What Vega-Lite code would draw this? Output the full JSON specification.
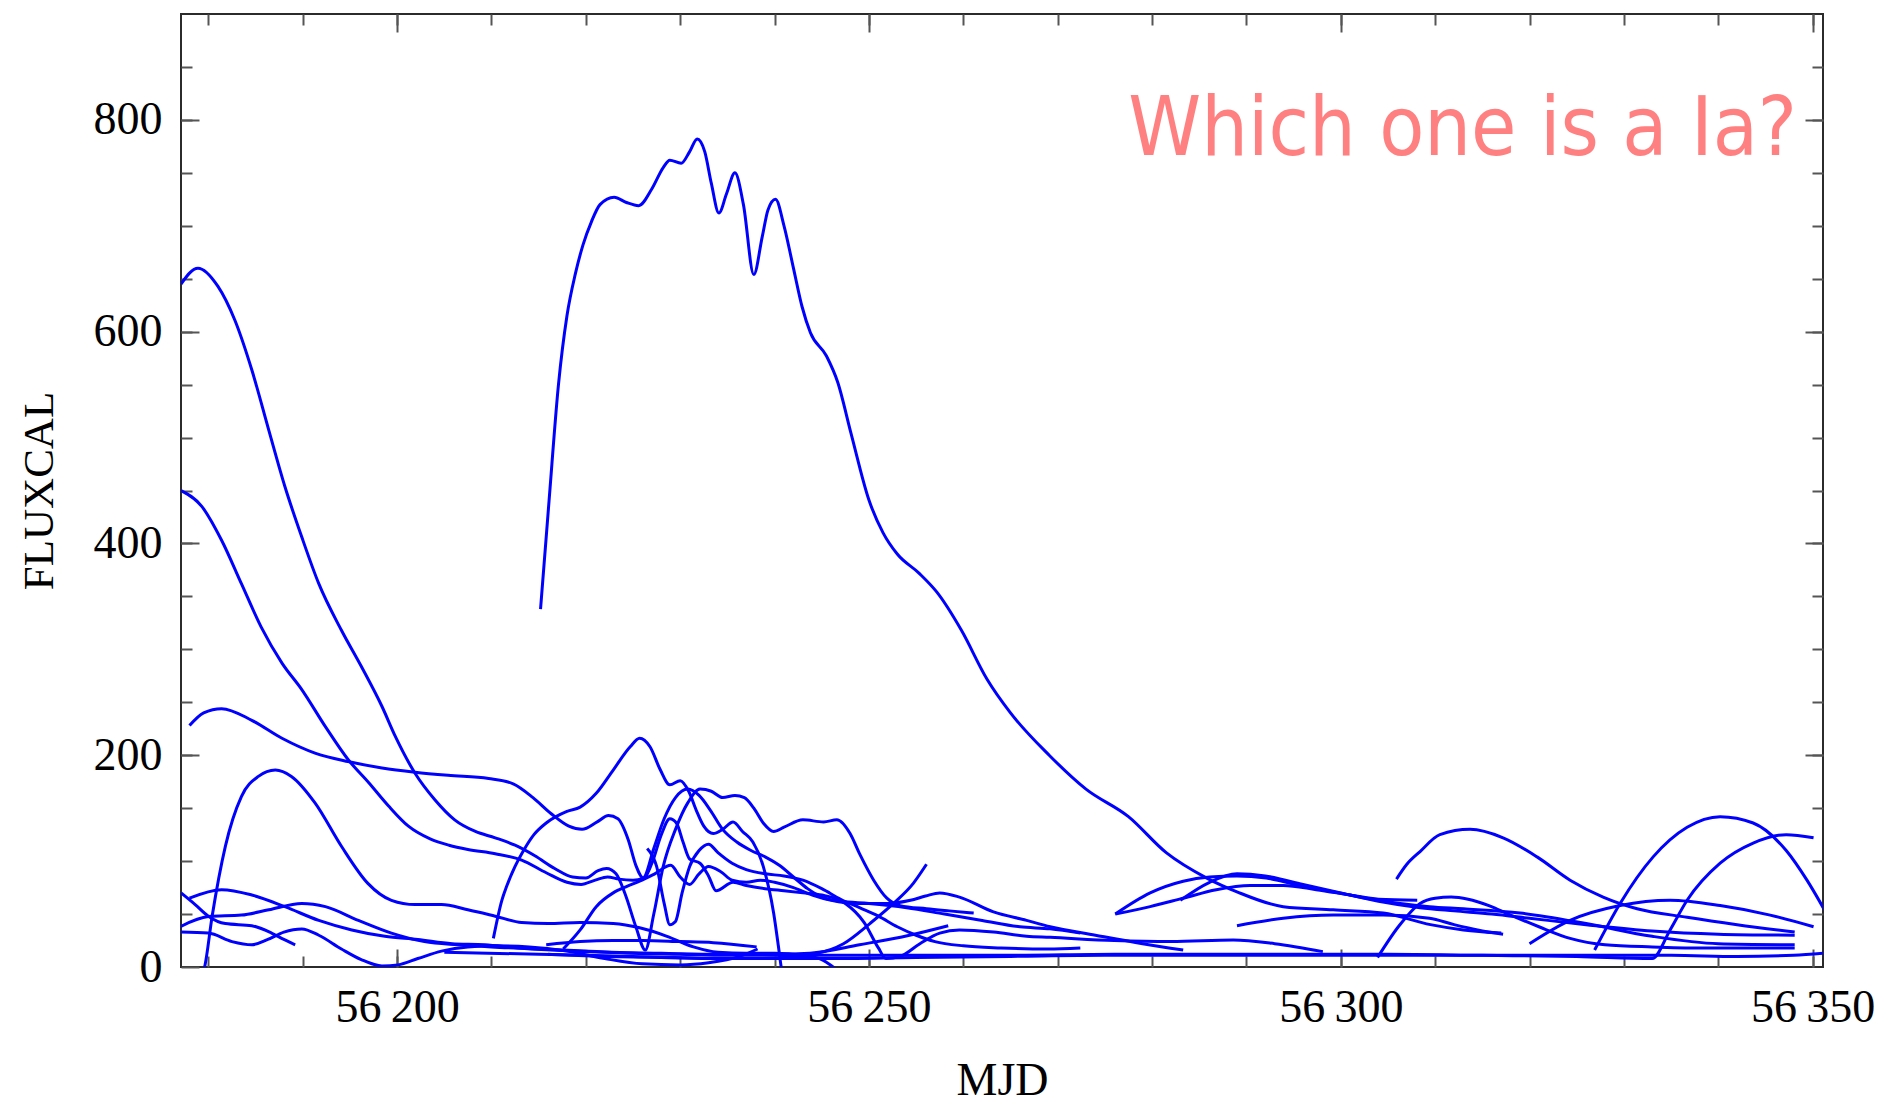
{
  "$schema": "https://vega.github.io/schema/vega-lite/v6.json",
  "width": 1642,
  "height": 953,
  "autosize": {"type": "none"},
  "padding": {"left": 181, "top": 14, "right": 56, "bottom": 137},
  "background": "white",
  "title": {"text": "Which one is a Ia?", "anchor": "end", "frame": "group", "orient": "top", "align": "right", "baseline": "alphabetic", "offset": 0, "dx": -26, "dy": 224, "font": "DejaVu Sans Condensed, DejaVu Sans", "fontSize": 82, "fontWeight": "normal", "color": "#ff8080"},
  "config": {
    "view": {"stroke": "#2b2b2b", "strokeWidth": 2},
    "axis": {"domain": false, "grid": false, "tickColor": "#555555", "tickWidth": 2, "labelFont": "Liberation Serif", "labelFontSize": 46, "labelColor": "#000000", "titleFont": "Liberation Serif", "titleFontSize": 46, "titleFontWeight": "normal", "titleColor": "#000000"}
  },
  "datasets": {
    "curves": [
      {"c":"c01","x":56215.2,"y":338},{"c":"c01","x":56216.1,"y":440},{"c":"c01","x":56217.1,"y":550},{"c":"c01","x":56218,"y":615},{"c":"c01","x":56218.9,"y":655},{"c":"c01","x":56219.7,"y":682},{"c":"c01","x":56220.6,"y":704},{"c":"c01","x":56221.5,"y":720},{"c":"c01","x":56223,"y":727},{"c":"c01","x":56224.3,"y":722},{"c":"c01","x":56225.6,"y":719},{"c":"c01","x":56227,"y":735},{"c":"c01","x":56228.2,"y":755},{"c":"c01","x":56228.9,"y":762},{"c":"c01","x":56230.1,"y":759},{"c":"c01","x":56231,"y":770},{"c":"c01","x":56231.8,"y":782},{"c":"c01","x":56232.6,"y":770},{"c":"c01","x":56233.3,"y":740},{"c":"c01","x":56234.1,"y":712},{"c":"c01","x":56234.9,"y":730},{"c":"c01","x":56235.8,"y":750},{"c":"c01","x":56236.7,"y":720},{"c":"c01","x":56237.8,"y":654},{"c":"c01","x":56238.7,"y":690},{"c":"c01","x":56239.3,"y":715},{"c":"c01","x":56240.1,"y":725},{"c":"c01","x":56241,"y":700},{"c":"c01","x":56242,"y":660},{"c":"c01","x":56242.9,"y":624},{"c":"c01","x":56243.8,"y":599},{"c":"c01","x":56245.5,"y":577},{"c":"c01","x":56246.7,"y":552},{"c":"c01","x":56248.1,"y":504},{"c":"c01","x":56250,"y":441},{"c":"c01","x":56251.5,"y":410},{"c":"c01","x":56253,"y":390},{"c":"c01","x":56255.3,"y":372},{"c":"c01","x":56257.2,"y":354},{"c":"c01","x":56259.8,"y":318},{"c":"c01","x":56262.5,"y":272},{"c":"c01","x":56265,"y":240},{"c":"c01","x":56269.1,"y":200},{"c":"c01","x":56273,"y":168},{"c":"c01","x":56277.5,"y":142},{"c":"c01","x":56281.5,"y":108},{"c":"c01","x":56285.8,"y":84},{"c":"c01","x":56289,"y":71},{"c":"c01","x":56293.9,"y":57},{"c":"c01","x":56299.2,"y":54},{"c":"c01","x":56304.5,"y":51},{"c":"c01","x":56309.5,"y":40},{"c":"c01","x":56313,"y":35},{"c":"c01","x":56317,"y":32},

      {"c":"c02","x":56177.1,"y":645},{"c":"c02","x":56178.9,"y":660},{"c":"c02","x":56181,"y":643},{"c":"c02","x":56182.8,"y":611},{"c":"c02","x":56184.6,"y":564},{"c":"c02","x":56186.4,"y":507},{"c":"c02","x":56188.1,"y":454},{"c":"c02","x":56189.9,"y":406},{"c":"c02","x":56191.7,"y":362},{"c":"c02","x":56194.1,"y":318},{"c":"c02","x":56196.2,"y":284},{"c":"c02","x":56198.4,"y":246},{"c":"c02","x":56199.8,"y":218},{"c":"c02","x":56201.9,"y":183},{"c":"c02","x":56204,"y":158},{"c":"c02","x":56206.1,"y":139},{"c":"c02","x":56208.3,"y":128},{"c":"c02","x":56210.4,"y":122},{"c":"c02","x":56212.5,"y":115},{"c":"c02","x":56214.6,"y":105},{"c":"c02","x":56216.7,"y":93},{"c":"c02","x":56218.6,"y":85},{"c":"c02","x":56220,"y":84},{"c":"c02","x":56221.3,"y":91},{"c":"c02","x":56222.2,"y":93},{"c":"c02","x":56223.2,"y":88},{"c":"c02","x":56224.2,"y":68},{"c":"c02","x":56225.3,"y":38},{"c":"c02","x":56226.3,"y":16},{"c":"c02","x":56227.2,"y":50},{"c":"c02","x":56228.2,"y":95},{"c":"c02","x":56229.5,"y":130},{"c":"c02","x":56230.8,"y":155},{"c":"c02","x":56232.1,"y":168},{"c":"c02","x":56233.3,"y":166},{"c":"c02","x":56234.5,"y":160},{"c":"c02","x":56235.8,"y":162},{"c":"c02","x":56236.8,"y":160},{"c":"c02","x":56237.8,"y":150},{"c":"c02","x":56238.8,"y":136},{"c":"c02","x":56239.9,"y":128},{"c":"c02","x":56241,"y":132},{"c":"c02","x":56243,"y":139},{"c":"c02","x":56245.2,"y":137},{"c":"c02","x":56246.6,"y":139},{"c":"c02","x":56248,"y":126},{"c":"c02","x":56249,"y":107},{"c":"c02","x":56250.5,"y":82},{"c":"c02","x":56251.9,"y":65},{"c":"c02","x":56253.3,"y":58},{"c":"c02","x":56256.1,"y":55},{"c":"c02","x":56258.5,"y":53},{"c":"c02","x":56261.1,"y":51},

      {"c":"c03","x":56177.1,"y":450},{"c":"c03","x":56179.3,"y":435},{"c":"c03","x":56181.4,"y":403},{"c":"c03","x":56183.5,"y":362},{"c":"c03","x":56185.6,"y":321},{"c":"c03","x":56187.8,"y":287},{"c":"c03","x":56189.9,"y":262},{"c":"c03","x":56192.4,"y":227},{"c":"c03","x":56194.8,"y":196},{"c":"c03","x":56197,"y":174},{"c":"c03","x":56199.1,"y":152},{"c":"c03","x":56201.2,"y":133},{"c":"c03","x":56203.5,"y":121},{"c":"c03","x":56205.5,"y":115},{"c":"c03","x":56207.5,"y":111},{"c":"c03","x":56210.4,"y":107},{"c":"c03","x":56213.2,"y":101},{"c":"c03","x":56215.8,"y":89},{"c":"c03","x":56218,"y":80},{"c":"c03","x":56219.5,"y":78},{"c":"c03","x":56221,"y":82},{"c":"c03","x":56222.3,"y":85},{"c":"c03","x":56223.5,"y":83},{"c":"c03","x":56225,"y":82},{"c":"c03","x":56226.1,"y":84},{"c":"c03","x":56227.2,"y":112},{"c":"c03","x":56228.3,"y":140},{"c":"c03","x":56229.5,"y":160},{"c":"c03","x":56230.8,"y":168},{"c":"c03","x":56232,"y":162},{"c":"c03","x":56233.2,"y":148},{"c":"c03","x":56234.5,"y":130},{"c":"c03","x":56236,"y":118},{"c":"c03","x":56237.5,"y":110},{"c":"c03","x":56239,"y":104},{"c":"c03","x":56240.5,"y":96},{"c":"c03","x":56242,"y":85},{"c":"c03","x":56243.5,"y":74},{"c":"c03","x":56245,"y":66},{"c":"c03","x":56247,"y":62},{"c":"c03","x":56250,"y":60},{"c":"c03","x":56254,"y":56},{"c":"c03","x":56258,"y":50},{"c":"c03","x":56262,"y":44},{"c":"c03","x":56266,"y":38},{"c":"c03","x":56269.2,"y":36},{"c":"c03","x":56272.4,"y":32},

      {"c":"c04","x":56178,"y":228},{"c":"c04","x":56179.5,"y":240},{"c":"c04","x":56181.4,"y":244},{"c":"c04","x":56184.6,"y":233},{"c":"c04","x":56187.8,"y":216},{"c":"c04","x":56191.3,"y":202},{"c":"c04","x":56194.8,"y":194},{"c":"c04","x":56198.4,"y":188},{"c":"c04","x":56201.9,"y":184},{"c":"c04","x":56205.4,"y":181},{"c":"c04","x":56209.7,"y":178},{"c":"c04","x":56212.3,"y":173},{"c":"c04","x":56214.4,"y":160},{"c":"c04","x":56216.3,"y":145},{"c":"c04","x":56218.2,"y":133},{"c":"c04","x":56219.6,"y":130},{"c":"c04","x":56221.2,"y":137},{"c":"c04","x":56222.4,"y":143},{"c":"c04","x":56223.4,"y":140},{"c":"c04","x":56224.5,"y":120},{"c":"c04","x":56225.3,"y":96},{"c":"c04","x":56226.1,"y":84},{"c":"c04","x":56227,"y":98},{"c":"c04","x":56228,"y":125},{"c":"c04","x":56228.9,"y":140},{"c":"c04","x":56229.6,"y":136},{"c":"c04","x":56230.3,"y":118},{"c":"c04","x":56231,"y":102},{"c":"c04","x":56232.1,"y":98},{"c":"c04","x":56233,"y":86},{"c":"c04","x":56233.8,"y":72},{"c":"c04","x":56235.6,"y":80},{"c":"c04","x":56237,"y":77},{"c":"c04","x":56239,"y":74},{"c":"c04","x":56241,"y":72},{"c":"c04","x":56243,"y":70},{"c":"c04","x":56245,"y":68},{"c":"c04","x":56247.5,"y":60},{"c":"c04","x":56249.5,"y":42},{"c":"c04","x":56251,"y":18},{"c":"c04","x":56251.8,"y":8},{"c":"c04","x":56253.3,"y":10},{"c":"c04","x":56255.4,"y":22},{"c":"c04","x":56257.5,"y":32},{"c":"c04","x":56259.6,"y":35},{"c":"c04","x":56263.2,"y":33},{"c":"c04","x":56266.7,"y":29},{"c":"c04","x":56269.2,"y":28},{"c":"c04","x":56276,"y":25},{"c":"c04","x":56282,"y":24},{"c":"c04","x":56288.6,"y":25.5},{"c":"c04","x":56293,"y":22},{"c":"c04","x":56298.1,"y":14.5},

      {"c":"c05","x":56210.2,"y":27},{"c":"c05","x":56211.1,"y":63},{"c":"c05","x":56211.6,"y":76},{"c":"c05","x":56212.5,"y":95},{"c":"c05","x":56213.4,"y":110},{"c":"c05","x":56214.5,"y":125},{"c":"c05","x":56215.8,"y":136},{"c":"c05","x":56218,"y":147},{"c":"c05","x":56219.4,"y":151},{"c":"c05","x":56221.1,"y":164},{"c":"c05","x":56222.9,"y":186},{"c":"c05","x":56224.7,"y":208},{"c":"c05","x":56225.7,"y":216},{"c":"c05","x":56226.8,"y":208},{"c":"c05","x":56227.9,"y":186},{"c":"c05","x":56228.9,"y":172},{"c":"c05","x":56230,"y":176},{"c":"c05","x":56230.9,"y":166},{"c":"c05","x":56231.7,"y":148},{"c":"c05","x":56232.5,"y":133},{"c":"c05","x":56233.5,"y":126},{"c":"c05","x":56234.5,"y":130},{"c":"c05","x":56235.6,"y":137},{"c":"c05","x":56236.6,"y":128},{"c":"c05","x":56237.7,"y":118},{"c":"c05","x":56238.8,"y":95},{"c":"c05","x":56239.9,"y":51},{"c":"c05","x":56240.4,"y":20},{"c":"c05","x":56240.7,"y":0},{"c":"c05","x":56240.9,"y":-10},

      {"c":"c06","x":56179.3,"y":-8},{"c":"c06","x":56179.6,"y":0},{"c":"c06","x":56180.4,"y":48},{"c":"c06","x":56181.8,"y":114},{"c":"c06","x":56183.5,"y":161},{"c":"c06","x":56185.3,"y":180},{"c":"c06","x":56187.1,"y":186},{"c":"c06","x":56188.8,"y":180},{"c":"c06","x":56191.3,"y":155},{"c":"c06","x":56194.1,"y":114},{"c":"c06","x":56196.9,"y":79},{"c":"c06","x":56199.4,"y":63},{"c":"c06","x":56201.9,"y":59},{"c":"c06","x":56204.7,"y":59},{"c":"c06","x":56207.5,"y":54},{"c":"c06","x":56210.4,"y":48},{"c":"c06","x":56213.2,"y":42},{"c":"c06","x":56216,"y":41},{"c":"c06","x":56219.4,"y":42},{"c":"c06","x":56222.9,"y":41},{"c":"c06","x":56225.7,"y":37},{"c":"c06","x":56228.6,"y":29},{"c":"c06","x":56231.4,"y":19},{"c":"c06","x":56234,"y":14},{"c":"c06","x":56237,"y":13},{"c":"c06","x":56240,"y":13},{"c":"c06","x":56243,"y":11},{"c":"c06","x":56245,"y":7},{"c":"c06","x":56246.5,"y":-2},

      {"c":"c07","x":56177.1,"y":70},{"c":"c07","x":56178.6,"y":59},{"c":"c07","x":56180,"y":48},{"c":"c07","x":56181.8,"y":41},{"c":"c07","x":56184.6,"y":39},{"c":"c07","x":56186.7,"y":32},{"c":"c07","x":56188,"y":26},{"c":"c07","x":56189.2,"y":21},

      {"c":"c08","x":56178,"y":65},{"c":"c08","x":56181.4,"y":73},{"c":"c08","x":56184.6,"y":68},{"c":"c08","x":56188.1,"y":57},{"c":"c08","x":56191.7,"y":44},{"c":"c08","x":56195.2,"y":35},{"c":"c08","x":56198.7,"y":29},{"c":"c08","x":56202.2,"y":26},{"c":"c08","x":56205.8,"y":22},{"c":"c08","x":56209.3,"y":21},{"c":"c08","x":56212.8,"y":18},{"c":"c08","x":56216.4,"y":16},{"c":"c08","x":56222,"y":14},{"c":"c08","x":56228,"y":13},{"c":"c08","x":56234,"y":12},{"c":"c08","x":56240,"y":12},{"c":"c08","x":56243.75,"y":13},{"c":"c08","x":56249,"y":21},{"c":"c08","x":56254.3,"y":30},{"c":"c08","x":56258.4,"y":39},

      {"c":"c09","x":56177,"y":38},{"c":"c09","x":56180,"y":47.6},{"c":"c09","x":56183.5,"y":49},{"c":"c09","x":56186.4,"y":54},{"c":"c09","x":56189.9,"y":60},{"c":"c09","x":56192.4,"y":57},{"c":"c09","x":56195.9,"y":44},{"c":"c09","x":56199.4,"y":32},{"c":"c09","x":56202.9,"y":24},{"c":"c09","x":56206.5,"y":21},{"c":"c09","x":56210,"y":19},{"c":"c09","x":56215,"y":17},{"c":"c09","x":56220,"y":15},{"c":"c09","x":56225,"y":13},{"c":"c09","x":56230,"y":12},{"c":"c09","x":56235,"y":11},{"c":"c09","x":56245,"y":11},{"c":"c09","x":56255,"y":11},{"c":"c09","x":56265,"y":11},{"c":"c09","x":56276,"y":12},{"c":"c09","x":56290,"y":12},{"c":"c09","x":56305,"y":12},{"c":"c09","x":56315,"y":11},{"c":"c09","x":56325,"y":10},{"c":"c09","x":56333,"y":8},{"c":"c09","x":56334.9,"y":35},{"c":"c09","x":56336.7,"y":63},{"c":"c09","x":56340.2,"y":98},{"c":"c09","x":56343.7,"y":117},{"c":"c09","x":56347.2,"y":125},{"c":"c09","x":56350.1,"y":122},

      {"c":"c10","x":56177,"y":33},{"c":"c10","x":56180,"y":32},{"c":"c10","x":56182.5,"y":24},{"c":"c10","x":56184.6,"y":21},{"c":"c10","x":56186.3,"y":26},{"c":"c10","x":56188,"y":33},{"c":"c10","x":56189.9,"y":36},{"c":"c10","x":56191.7,"y":30},{"c":"c10","x":56194.1,"y":17},{"c":"c10","x":56196.2,"y":7},{"c":"c10","x":56198.4,"y":1},{"c":"c10","x":56200.1,"y":2},{"c":"c10","x":56202.2,"y":8},{"c":"c10","x":56204.7,"y":15},{"c":"c10","x":56207.5,"y":19},{"c":"c10","x":56210.4,"y":20},{"c":"c10","x":56214,"y":19},{"c":"c10","x":56218,"y":15},{"c":"c10","x":56222,"y":8},{"c":"c10","x":56226,"y":3},{"c":"c10","x":56230,"y":2},{"c":"c10","x":56233,"y":4},{"c":"c10","x":56236.3,"y":10},{"c":"c10","x":56238.2,"y":17},

      {"c":"c11","x":56215.8,"y":21},{"c":"c11","x":56219.4,"y":24},{"c":"c11","x":56222.9,"y":25},{"c":"c11","x":56226,"y":25},{"c":"c11","x":56230,"y":24},{"c":"c11","x":56233.5,"y":23},{"c":"c11","x":56238.1,"y":19},

      {"c":"c12","x":56217.6,"y":17},{"c":"c12","x":56219.4,"y":35},{"c":"c12","x":56221.1,"y":57},{"c":"c12","x":56222.9,"y":70},{"c":"c12","x":56224.3,"y":76},{"c":"c12","x":56225.7,"y":81},{"c":"c12","x":56227.3,"y":88},{"c":"c12","x":56229,"y":96},{"c":"c12","x":56230,"y":85},{"c":"c12","x":56231,"y":78},{"c":"c12","x":56232,"y":88},{"c":"c12","x":56233,"y":95},{"c":"c12","x":56234.3,"y":90},{"c":"c12","x":56235.5,"y":82},{"c":"c12","x":56237,"y":80},{"c":"c12","x":56238.5,"y":82},{"c":"c12","x":56240,"y":80},{"c":"c12","x":56242,"y":75},{"c":"c12","x":56244,"y":68},{"c":"c12","x":56246,"y":63},{"c":"c12","x":56249,"y":60},{"c":"c12","x":56252,"y":60},{"c":"c12","x":56254.4,"y":63},{"c":"c12","x":56256,"y":67},{"c":"c12","x":56257.5,"y":70},{"c":"c12","x":56259.6,"y":66},{"c":"c12","x":56263.2,"y":52},{"c":"c12","x":56266.7,"y":44},{"c":"c12","x":56269.2,"y":38},{"c":"c12","x":56274,"y":30},{"c":"c12","x":56279,"y":22},{"c":"c12","x":56283.3,"y":16},

      {"c":"c13","x":56226.5,"y":112},{"c":"c13","x":56227.5,"y":95},{"c":"c13","x":56228.3,"y":60},{"c":"c13","x":56228.9,"y":40},{"c":"c13","x":56229.5,"y":43},{"c":"c13","x":56230.2,"y":70},{"c":"c13","x":56231,"y":95},{"c":"c13","x":56232,"y":110},{"c":"c13","x":56233,"y":116},{"c":"c13","x":56234,"y":108},{"c":"c13","x":56235.5,"y":98},{"c":"c13","x":56237,"y":92},{"c":"c13","x":56239,"y":88},{"c":"c13","x":56241,"y":86},{"c":"c13","x":56243,"y":82},{"c":"c13","x":56245,"y":74},{"c":"c13","x":56247,"y":64},{"c":"c13","x":56249,"y":56},{"c":"c13","x":56251,"y":48},{"c":"c13","x":56253,"y":38},{"c":"c13","x":56255,"y":30},{"c":"c13","x":56257,"y":24},{"c":"c13","x":56260,"y":20},{"c":"c13","x":56264,"y":18},{"c":"c13","x":56269,"y":17},{"c":"c13","x":56272.4,"y":18},

      {"c":"c14","x":56216,"y":12},{"c":"c14","x":56222,"y":10},{"c":"c14","x":56228,"y":9},{"c":"c14","x":56234,"y":8},{"c":"c14","x":56238.45,"y":8},{"c":"c14","x":56244.45,"y":13},{"c":"c14","x":56247.3,"y":22},{"c":"c14","x":56250.1,"y":41},{"c":"c14","x":56252.6,"y":60},{"c":"c14","x":56254.7,"y":79},{"c":"c14","x":56256.1,"y":97},

      {"c":"c15","x":56205,"y":14},{"c":"c15","x":56215,"y":12},{"c":"c15","x":56225,"y":10},{"c":"c15","x":56235,"y":8},{"c":"c15","x":56245,"y":8},{"c":"c15","x":56255,"y":9},{"c":"c15","x":56265,"y":10},{"c":"c15","x":56275,"y":11},{"c":"c15","x":56285,"y":11},{"c":"c15","x":56295,"y":11},{"c":"c15","x":56305,"y":11},{"c":"c15","x":56315,"y":11},{"c":"c15","x":56325,"y":11},{"c":"c15","x":56335,"y":11},{"c":"c15","x":56342,"y":10},{"c":"c15","x":56348,"y":11},{"c":"c15","x":56351.2,"y":13},

      {"c":"c16","x":56276.1,"y":50},{"c":"c16","x":56279.8,"y":70},{"c":"c16","x":56283.3,"y":81},{"c":"c16","x":56286.1,"y":85},{"c":"c16","x":56289,"y":86},{"c":"c16","x":56292.1,"y":84},{"c":"c16","x":56295.7,"y":77},{"c":"c16","x":56299.2,"y":71},{"c":"c16","x":56302.7,"y":65},{"c":"c16","x":56306.3,"y":60},{"c":"c16","x":56309.4,"y":57},{"c":"c16","x":56313,"y":55},{"c":"c16","x":56319,"y":51},{"c":"c16","x":56326,"y":41},{"c":"c16","x":56333,"y":29},{"c":"c16","x":56340,"y":22},{"c":"c16","x":56348.1,"y":21},

      {"c":"c17","x":56276.1,"y":50},{"c":"c17","x":56279.8,"y":57},{"c":"c17","x":56283.3,"y":65},{"c":"c17","x":56286.8,"y":73},{"c":"c17","x":56290.4,"y":77},{"c":"c17","x":56293.9,"y":77},{"c":"c17","x":56297.4,"y":73},{"c":"c17","x":56301,"y":68},{"c":"c17","x":56304,"y":64},{"c":"c17","x":56308.1,"y":63},

      {"c":"c18","x":56283,"y":63},{"c":"c18","x":56286.1,"y":80},{"c":"c18","x":56289,"y":88},{"c":"c18","x":56292,"y":86},{"c":"c18","x":56296,"y":78},{"c":"c18","x":56300,"y":70},{"c":"c18","x":56304,"y":62},{"c":"c18","x":56308.4,"y":56},{"c":"c18","x":56312,"y":53},{"c":"c18","x":56316,"y":50},{"c":"c18","x":56320,"y":46},{"c":"c18","x":56326,"y":40},{"c":"c18","x":56333,"y":34},{"c":"c18","x":56340,"y":31},{"c":"c18","x":56348.1,"y":30},

      {"c":"c19","x":56289,"y":39},{"c":"c19","x":56293.9,"y":46},{"c":"c19","x":56299.2,"y":49},{"c":"c19","x":56304.5,"y":49},{"c":"c19","x":56309.4,"y":46},{"c":"c19","x":56312,"y":40},{"c":"c19","x":56314.5,"y":35},{"c":"c19","x":56317.2,"y":31},

      {"c":"c20","x":56303.9,"y":9},{"c":"c20","x":56306.1,"y":38},{"c":"c20","x":56308.4,"y":60},{"c":"c20","x":56310,"y":65},{"c":"c20","x":56311.7,"y":66},{"c":"c20","x":56313.5,"y":64},{"c":"c20","x":56315.7,"y":58},{"c":"c20","x":56318,"y":49},{"c":"c20","x":56321,"y":38},{"c":"c20","x":56324.3,"y":27},{"c":"c20","x":56328,"y":21},{"c":"c20","x":56333,"y":19},{"c":"c20","x":56338,"y":18},{"c":"c20","x":56343,"y":18},{"c":"c20","x":56348.1,"y":18},

      {"c":"c21","x":56305.9,"y":83},{"c":"c21","x":56307,"y":97},{"c":"c21","x":56308.4,"y":109},{"c":"c21","x":56310.5,"y":125},{"c":"c21","x":56313.7,"y":130},{"c":"c21","x":56317.2,"y":122},{"c":"c21","x":56320.8,"y":104},{"c":"c21","x":56324.3,"y":82},{"c":"c21","x":56327.8,"y":66},{"c":"c21","x":56331.4,"y":55},{"c":"c21","x":56336.7,"y":47},{"c":"c21","x":56342,"y":40},{"c":"c21","x":56348.1,"y":33},

      {"c":"c22","x":56320,"y":22},{"c":"c22","x":56324.3,"y":44},{"c":"c22","x":56329.6,"y":58},{"c":"c22","x":56334.9,"y":63},{"c":"c22","x":56340.2,"y":58},{"c":"c22","x":56345.5,"y":49},{"c":"c22","x":56350.1,"y":38},

      {"c":"c23","x":56326.9,"y":16},{"c":"c23","x":56329.6,"y":60},{"c":"c23","x":56333.1,"y":104},{"c":"c23","x":56336.7,"y":132},{"c":"c23","x":56340.2,"y":142},{"c":"c23","x":56343.7,"y":136},{"c":"c23","x":56347.2,"y":110},{"c":"c23","x":56349.4,"y":82},{"c":"c23","x":56351.5,"y":50}
    ]
  },
  "data": {"name": "curves"},
  "layer": [
    {
      "mark": {"type": "line", "color": "#0000ff", "strokeWidth": 3, "interpolate": "monotone", "clip": true},
      "encoding": {
        "x": {"field": "x", "type": "quantitative", "scale": {"domain": [56177.1, 56351.1], "nice": false, "zero": false},
          "axis": {"orient": "bottom", "values": [56200, 56250, 56300, 56350], "tickSize": -18, "labelPadding": 36,
            "labelExpr": "slice(format(datum.value, 'd'), 0, 2) + '\u2009' + slice(format(datum.value, 'd'), 2)",
            "title": "MJD", "titleY": 127, "titleBaseline": "alphabetic"}},
        "y": {"field": "y", "type": "quantitative", "scale": {"domain": [0, 900], "nice": false, "zero": false},
          "axis": {"orient": "left", "values": [0, 200, 400, 600, 800], "tickSize": -18, "labelPadding": 37, "format": "d",
            "title": "FLUXCAL", "titleFontSize": 43, "titleX": -129, "titleBaseline": "alphabetic"}},
        "detail": {"field": "c", "type": "nominal"}
      }
    },
    {
      "mark": {"type": "point", "opacity": 0},
      "encoding": {
        "x": {"field": "x", "type": "quantitative",
          "axis": {"orient": "bottom", "values": [56180, 56190, 56200, 56210, 56220, 56230, 56240, 56250, 56260, 56270, 56280, 56290, 56300, 56310, 56320, 56330, 56340, 56350], "tickSize": -11, "labels": false, "title": null}},
        "y": {"field": "y", "type": "quantitative",
          "axis": {"orient": "left", "values": [50, 100, 150, 200, 250, 300, 350, 400, 450, 500, 550, 600, 650, 700, 750, 800, 850], "tickSize": -11, "labels": false, "title": null}}
      }
    },
    {
      "mark": {"type": "point", "opacity": 0},
      "encoding": {
        "x": {"field": "x", "type": "quantitative",
          "axis": {"orient": "top", "values": [56200, 56250, 56300, 56350], "tickSize": -18, "labels": false, "title": null}},
        "y": {"field": "y", "type": "quantitative",
          "axis": {"orient": "right", "values": [200, 400, 600, 800], "tickSize": -18, "labels": false, "title": null}}
      }
    },
    {
      "mark": {"type": "point", "opacity": 0},
      "encoding": {
        "x": {"field": "x", "type": "quantitative",
          "axis": {"orient": "top", "values": [56180, 56190, 56200, 56210, 56220, 56230, 56240, 56250, 56260, 56270, 56280, 56290, 56300, 56310, 56320, 56330, 56340, 56350], "tickSize": -11, "labels": false, "title": null}},
        "y": {"field": "y", "type": "quantitative",
          "axis": {"orient": "right", "values": [50, 100, 150, 200, 250, 300, 350, 400, 450, 500, 550, 600, 650, 700, 750, 800, 850], "tickSize": -11, "labels": false, "title": null}}
      }
    }
  ],
  "resolve": {"axis": {"x": "independent", "y": "independent"}}
}
